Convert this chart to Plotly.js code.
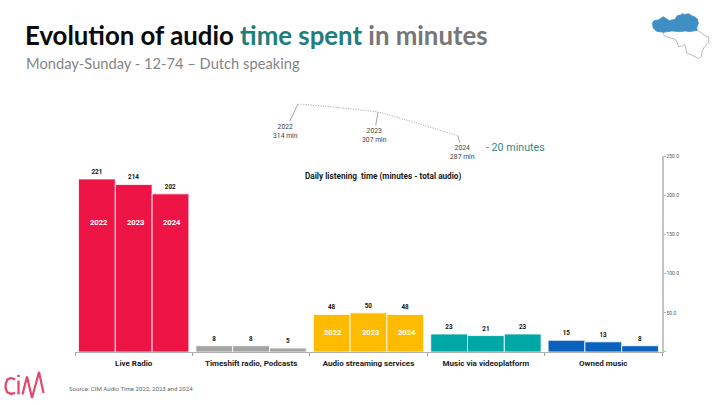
<!DOCTYPE html>
<html>
<head>
<meta charset="utf-8">
<script src="https://cdn.plot.ly/plotly-3.0.1.min.js"></script>
<style>html,body{margin:0;padding:0;background:#fff}#chart{width:728px;height:405px}</style>
</head>
<body>
<div id="chart"></div>
<script>
const categories = ['Live Radio', 'Timeshift radio, Podcasts', 'Audio streaming services', 'Music via videoplatform', 'Owned music'];
const years = ['2022', '2023', '2024'];
const values2022 = [221, 8, 48, 23, 15];
const values2023 = [214, 8, 50, 21, 13];
const values2024 = [202, 5, 48, 23, 8];
const categoryColors = ['#ee1446', '#a3a3a3', '#ffbb00', '#00a7a7', '#0b62bd'];
const totalYears = [2022, 2023, 2024];
const totalMinutes = [314, 307, 287];
const yTickVals = [0, 50, 100, 150, 200, 250];
const yTickText = ['', '50.0', '100.0', '150.0', '200.0', '250.0'];
const yearLabelCategories = [0, 2];
const yearLabelHeights = [165, 25];

const W = 728, H = 405, L = 75, R = 662, B = 352.5;
const px = x => (x - L) / (R - L);
const py = y => (B - y) / B;
const FONT = 'Roboto, sans-serif';

function path(points, close) {
  return points.map((p, i) => (i ? 'L' : 'M') + px(p[0]).toFixed(5) + ',' + py(p[1]).toFixed(5)).join(' ') + (close ? ' Z' : '');
}
const z5 = pts => pts.map(p => [640 + p[0] / 3, 5 + p[1] / 3]);

const flanders = z5([[37,55],[42,47],[55,45],[70,35],[80,42],[88,47],[105,43],[112,32],[122,30],[128,26],[135,29],[145,26],[155,32],[165,36],[172,42],[175,55],[170,68],[172,76],[150,80],[135,78],[120,80],[95,78],[70,82],[50,79],[40,70]]);
const wallonia = z5([[70,82],[72,92],[85,97],[105,103],[112,113],[116,125],[128,123],[134,118],[138,130],[140,145],[155,150],[175,161],[184,156],[186,140],[192,128],[205,112],[207,97],[192,90],[185,84],[172,76]]);

const shapes = [
  {type:'path', xref:'paper', yref:'paper', path:path(wallonia,false), line:{color:'#aab4c0', width:0.9}, fillcolor:'#ffffff'},
  {type:'path', xref:'paper', yref:'paper', path:path(flanders,true), line:{color:'#3f8fc4', width:0.8}, fillcolor:'#3f8fc4'},
  // CIM logo
  {type:'path', xref:'paper', yref:'paper', path:path([[15,380],[11,378.5],[7.5,380],[5.8,384],[5.5,388],[7,392.5],[11,394.5],[15,393.5]],false), line:{color:'#e2476c', width:2.3}},
  {type:'path', xref:'paper', yref:'paper', path:path([[18.5,381],[18.5,395]],false), line:{color:'#e2476c', width:2.3}},
  {type:'path', xref:'paper', yref:'paper', path:path([[18.5,375.5],[18.5,377.5]],false), line:{color:'#e2476c', width:2.6}},
  {type:'path', xref:'paper', yref:'paper', path:path([[22.5,395],[27,377],[32,398.5],[39,372.5],[43.5,393.5]],false), line:{color:'#e2476c', width:2.2}}
];

const seriesValues = [values2022, values2023, values2024];
const traces = seriesValues.map((vals, i) => ({
  type:'bar', name:years[i], x:categories, y:vals, xaxis:'x', yaxis:'y',
  marker:{color:categoryColors, line:{color:'#ffffff', width:0.8}},
  text:vals.map(String), textposition:'outside', cliponaxis:false, constraintext:'none',
  textfont:{family:FONT, size:6.3, color:'#111', weight:700}, hoverinfo:'skip', showlegend:false
}));
traces.push({
  type:'scatter', mode:'lines', x:totalYears, y:totalMinutes, xaxis:'x2', yaxis:'y2',
  line:{color:'#8c8c8c', width:0.9, dash:'1px,1.5px', shape:'spline', smoothing:0.35}, cliponaxis:false,
  hoverinfo:'skip', showlegend:false
});

const annotations = [];
function textAt(x, y, text, size, color, opts) {
  annotations.push(Object.assign({xref:'paper', yref:'paper', x:px(x), y:py(y), text:text, showarrow:false,
    xanchor:'left', yanchor:'middle', font:{family:FONT, size:size, color:color}}, opts || {}));
}
textAt(23, 35.5, '<b>Evolution of audio <span style="color:#1f7d7b">time spent</span> <span style="color:#767676">in minutes</span></b>', 25.8, '#0a0a0a', {font:{family:'Lato, sans-serif', size:25.8, color:'#0a0a0a'}});
textAt(23.5, 63.5, 'Monday-Sunday - 12-74 – Dutch speaking', 14.7, '#858585', {font:{family:'Lato, sans-serif', size:14.7, color:'#858585'}});
textAt(484, 148, '- 20 minutes', 10.7, '#2f8a87');
textAt(303, 176.5, '<b>Daily listening  time (minutes - total audio)</b>', 8.2, '#1a1a1a');
textAt(67, 389, 'Source: CIM Audio Time 2022, 2023 and 2024', 6.1, '#666666');

const arrowOffsets = [[-13, 27.5], [-4, 23], [4, 17]];
totalYears.forEach((yr, i) => annotations.push({
  xref:'x2', yref:'y2', x:yr, y:totalMinutes[i], text:yr + '<br>' + totalMinutes[i] + ' min',
  showarrow:true, arrowhead:0, arrowwidth:0.6, arrowcolor:'#666', axref:'pixel', ayref:'pixel',
  ax:arrowOffsets[i][0], ay:arrowOffsets[i][1], standoff:0, startstandoff:0,
  font:{family:FONT, size:6.8, color:'#444'}, align:'center'
}));

const barStep = 0.94 / 3;
const labelNudge = 0.015;
yearLabelCategories.forEach((c, k) => years.forEach((yr, i) => annotations.push({
  xref:'x', yref:'y', x:c + (i - 1) * barStep + labelNudge, y:yearLabelHeights[k], text:'<b>' + yr + '</b>', showarrow:false,
  font:{family:FONT, size:7.6, color:'#ffffff'}
})));

const layout = {
  width:W, height:H, autosize:false,
  margin:{l:L, r:W - R, t:0, b:H - B, pad:0},
  paper_bgcolor:'#fff', plot_bgcolor:'rgba(0,0,0,0)',
  barmode:'group', bargap:0.06, bargroupgap:0,
  showlegend:false,
  xaxis:{type:'category', domain:[0,1], anchor:'y', tickson:'boundaries', ticks:'outside', ticklen:3, tickwidth:0.8, tickcolor:'#888',
    ticklabelstandoff:3,
    showline:true, linecolor:'#b0b0b0', linewidth:1, showgrid:false, zeroline:false, automargin:false,
    tickfont:{family:FONT, size:8, color:'#1a1a1a', weight:700}},
  yaxis:{domain:[0, 196 / B], anchor:'x', side:'right', range:[0,250], tickmode:'array', tickvals:yTickVals, ticktext:yTickText,
    ticks:'outside', ticklen:2, tickwidth:0.6, tickcolor:'#888', showline:true, linecolor:'#c4c4c4', linewidth:1.5,
    showgrid:false, zeroline:false, automargin:false, tickfont:{family:FONT, size:5, color:'#555'}},
  xaxis2:{domain:[px(298), px(458)], anchor:'y2', range:[2022,2024], visible:false},
  yaxis2:{domain:[py(136), py(104)], anchor:'x2', range:[287,314], visible:false},
  shapes:shapes, annotations:annotations
};
Plotly.newPlot('chart', traces, layout, {displayModeBar:false, staticPlot:true});
</script>
</body>
</html>
